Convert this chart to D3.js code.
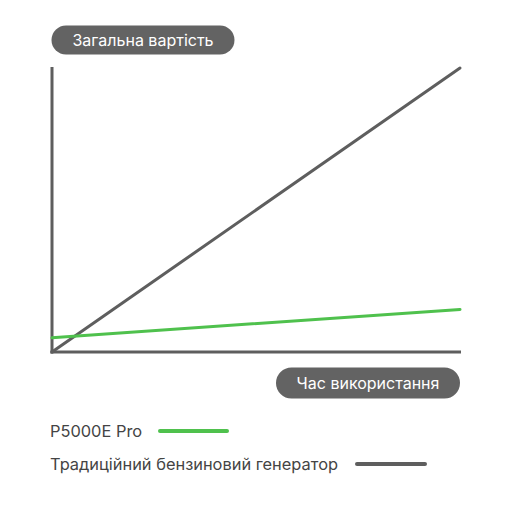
<!DOCTYPE html>
<html>
<head>
<meta charset="utf-8">
<script src="https://cdn.jsdelivr.net/npm/d3@7"></script>
<style>
  body { margin: 0; background: #fff; }
  text { font-family: Inter, "Noto Sans", sans-serif; }
</style>
</head>
<body>
<script>
"use strict";

let width = 512;
let height = 512;

// time of use (relative) and total cost (relative)
let timePoints = [0, 10];
let proCost = [5, 15];
let gasCost = [0, 100];
let seriesNames = ["P5000E Pro", "Традиційний бензиновий генератор"];
let seriesColors = ["#4fc14d", "#5e5e5e"];
let yTitle = "Загальна вартість";
let xTitle = "Час використання";

let svg = d3.select("body").append("svg").attr("width", width).attr("height", height);

let x = d3.scaleLinear().domain([0, 10]).range([52, 460]);
let y = d3.scaleLinear().domain([0, 100]).range([352, 68]);

let line = d3.line()
  .x((d, i) => x(timePoints[i]))
  .y(d => y(d));

// axes
svg.append("line")
  .attr("x1", x(0)).attr("x2", x(0))
  .attr("y1", y(0) + 1.5).attr("y2", y(100) - 1)
  .attr("stroke", "#5e5e5e").attr("stroke-width", 3);
svg.append("line")
  .attr("x1", x(0) - 1.5).attr("x2", x(10) + 1)
  .attr("y1", y(0)).attr("y2", y(0))
  .attr("stroke", "#5e5e5e").attr("stroke-width", 3);

// series
[gasCost, proCost].forEach(function (vals, i) {
  svg.append("path")
    .attr("d", line(vals))
    .attr("fill", "none")
    .attr("stroke", i === 0 ? seriesColors[1] : seriesColors[0])
    .attr("stroke-width", 3)
    .attr("stroke-linecap", "round");
});

// axis title pills
function pill(cx, cy, w, h, label) {
  let g = svg.append("g");
  g.append("rect")
    .attr("x", cx - w / 2).attr("y", cy - h / 2)
    .attr("width", w).attr("height", h)
    .attr("rx", h / 2)
    .attr("fill", "#636363");
  g.append("text")
    .attr("x", cx).attr("y", cy)
    .attr("dy", "0.35em")
    .attr("text-anchor", "middle")
    .attr("fill", "#fff")
    .attr("font-size", 16)
    .text(label);
}
pill(143, 40, 183, 29, yTitle);
pill(368, 383, 184, 31, xTitle);

// legend
let legendY = [431, 464];
let legendLine = [[160, 227], [357, 425]];
let legendColors = [seriesColors[0], seriesColors[1]];
seriesNames.forEach(function (name, i) {
  svg.append("text")
    .attr("x", 50).attr("y", legendY[i])
    .attr("dy", "0.35em")
    .attr("fill", "#444")
    .attr("font-size", 16.4)
    .text(name);
  svg.append("line")
    .attr("x1", legendLine[i][0]).attr("x2", legendLine[i][1])
    .attr("y1", legendY[i]).attr("y2", legendY[i])
    .attr("stroke", legendColors[i])
    .attr("stroke-width", 4)
    .attr("stroke-linecap", "round");
});
</script>
</body>
</html>
